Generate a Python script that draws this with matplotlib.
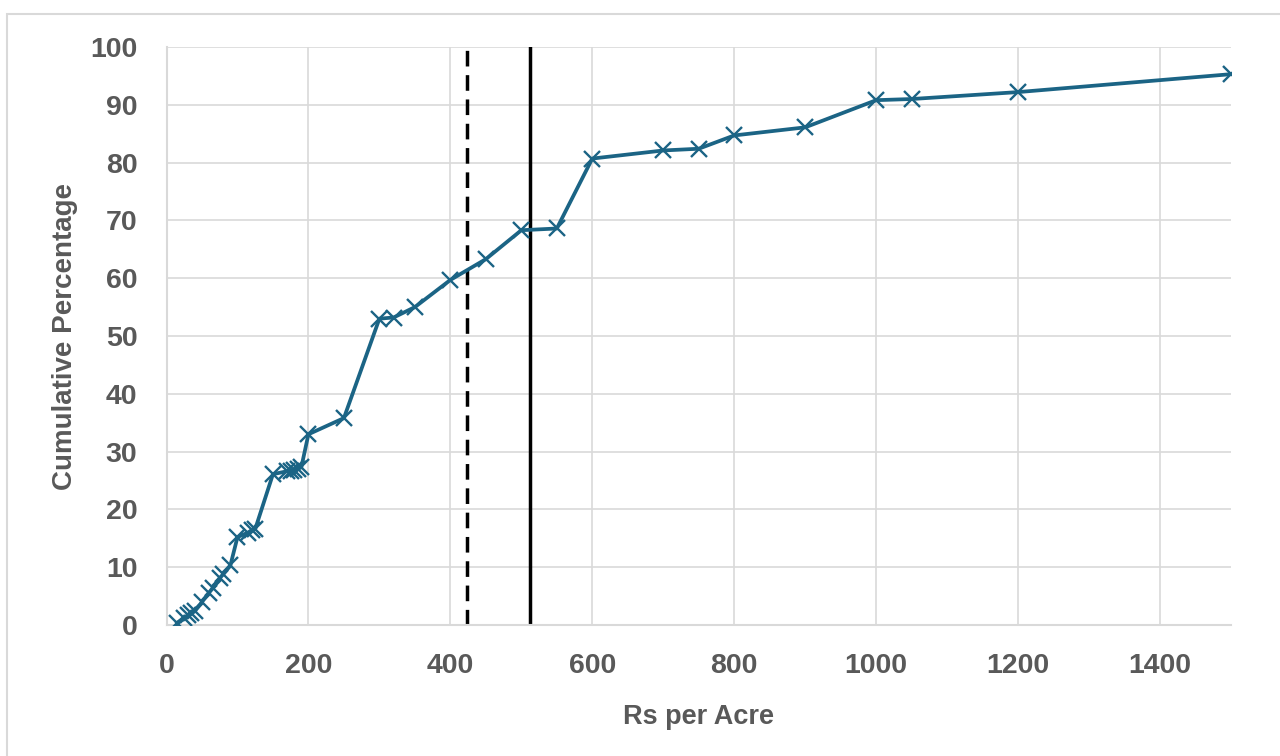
import matplotlib.pyplot as plt
from matplotlib.patches import Rectangle

# Price per acre (Rs) and cumulative share of plots (%)
rs_per_acre = [15, 25, 30, 35, 40, 50, 60, 65, 75, 80, 90, 100, 115, 120, 125,
               150, 170, 175, 180, 185, 190, 200, 250, 300, 320, 350, 400, 450,
               500, 550, 600, 700, 750, 800, 900, 1000, 1050, 1200, 1500]
cum_pct = [0.4, 1.2, 1.7, 2.0, 2.4, 4.0, 5.6, 6.4, 8.1, 8.8, 10.3, 15.2, 16.0,
           16.4, 16.6, 26.1, 26.6, 26.7, 26.8, 27.0, 27.3, 33.0, 35.8, 53.0,
           53.2, 55.0, 59.7, 63.3, 68.3, 68.6, 80.7, 82.1, 82.4, 84.7, 86.1,
           90.8, 91.0, 92.2, 95.3]

median_rs = 423   # dashed reference line
mean_rs = 512     # solid reference line

x_ticks = [0, 200, 400, 600, 800, 1000, 1200, 1400]
y_ticks = list(range(0, 101, 10))

plt.rcParams['font.family'] = ['Liberation Sans', 'DejaVu Sans']
text_grey = '#595959'
grid_grey = '#d9d9d9'

fig = plt.figure(figsize=(12.8, 7.56), dpi=100)
ax = fig.add_axes([166.5 / 1280, 1 - 625 / 756, (1231 - 166.5) / 1280, (625 - 47) / 756])

# thin frame around the chart area
fig.patches.append(Rectangle((7 / 1280, -0.1), 1.2, 1 - 14 / 756 + 0.1,
                             transform=fig.transFigure, fill=False,
                             edgecolor=grid_grey, linewidth=1.5))

ax.plot(rs_per_acre, cum_pct, color='#1b6485', linewidth=2.7,
        marker='x', markersize=11, markeredgewidth=1.7, zorder=3)
ax.axvline(median_rs, color='black', linewidth=2.5, linestyle=(0, (4.5, 2.5)), zorder=2)
ax.axvline(mean_rs, color='black', linewidth=2.5, zorder=2)

ax.set_xlim(0, 1500)
ax.set_ylim(0, 100)
ax.set_xticks(x_ticks)
ax.set_yticks(y_ticks)
ax.grid(True, color=grid_grey, linewidth=1.2, zorder=0)
ax.set_axisbelow(True)
for side in ['top', 'right']:
    ax.spines[side].set_visible(False)
for side in ['left', 'bottom']:
    ax.spines[side].set_color(grid_grey)
    ax.spines[side].set_linewidth(1.5)
ax.tick_params(length=0, labelsize=20.5, labelcolor=text_grey)
ax.tick_params(axis='y', pad=21)
ax.tick_params(axis='x', pad=20)
for lbl in ax.get_xticklabels() + ax.get_yticklabels():
    lbl.set_fontweight('bold')

ax.set_xlabel('Rs per Acre', fontsize=19.5, fontweight='bold', color=text_grey, labelpad=18)
ax.set_ylabel('Cumulative Percentage', fontsize=20, fontweight='bold', color=text_grey, labelpad=9)

fig.savefig('out.png', dpi=100)
